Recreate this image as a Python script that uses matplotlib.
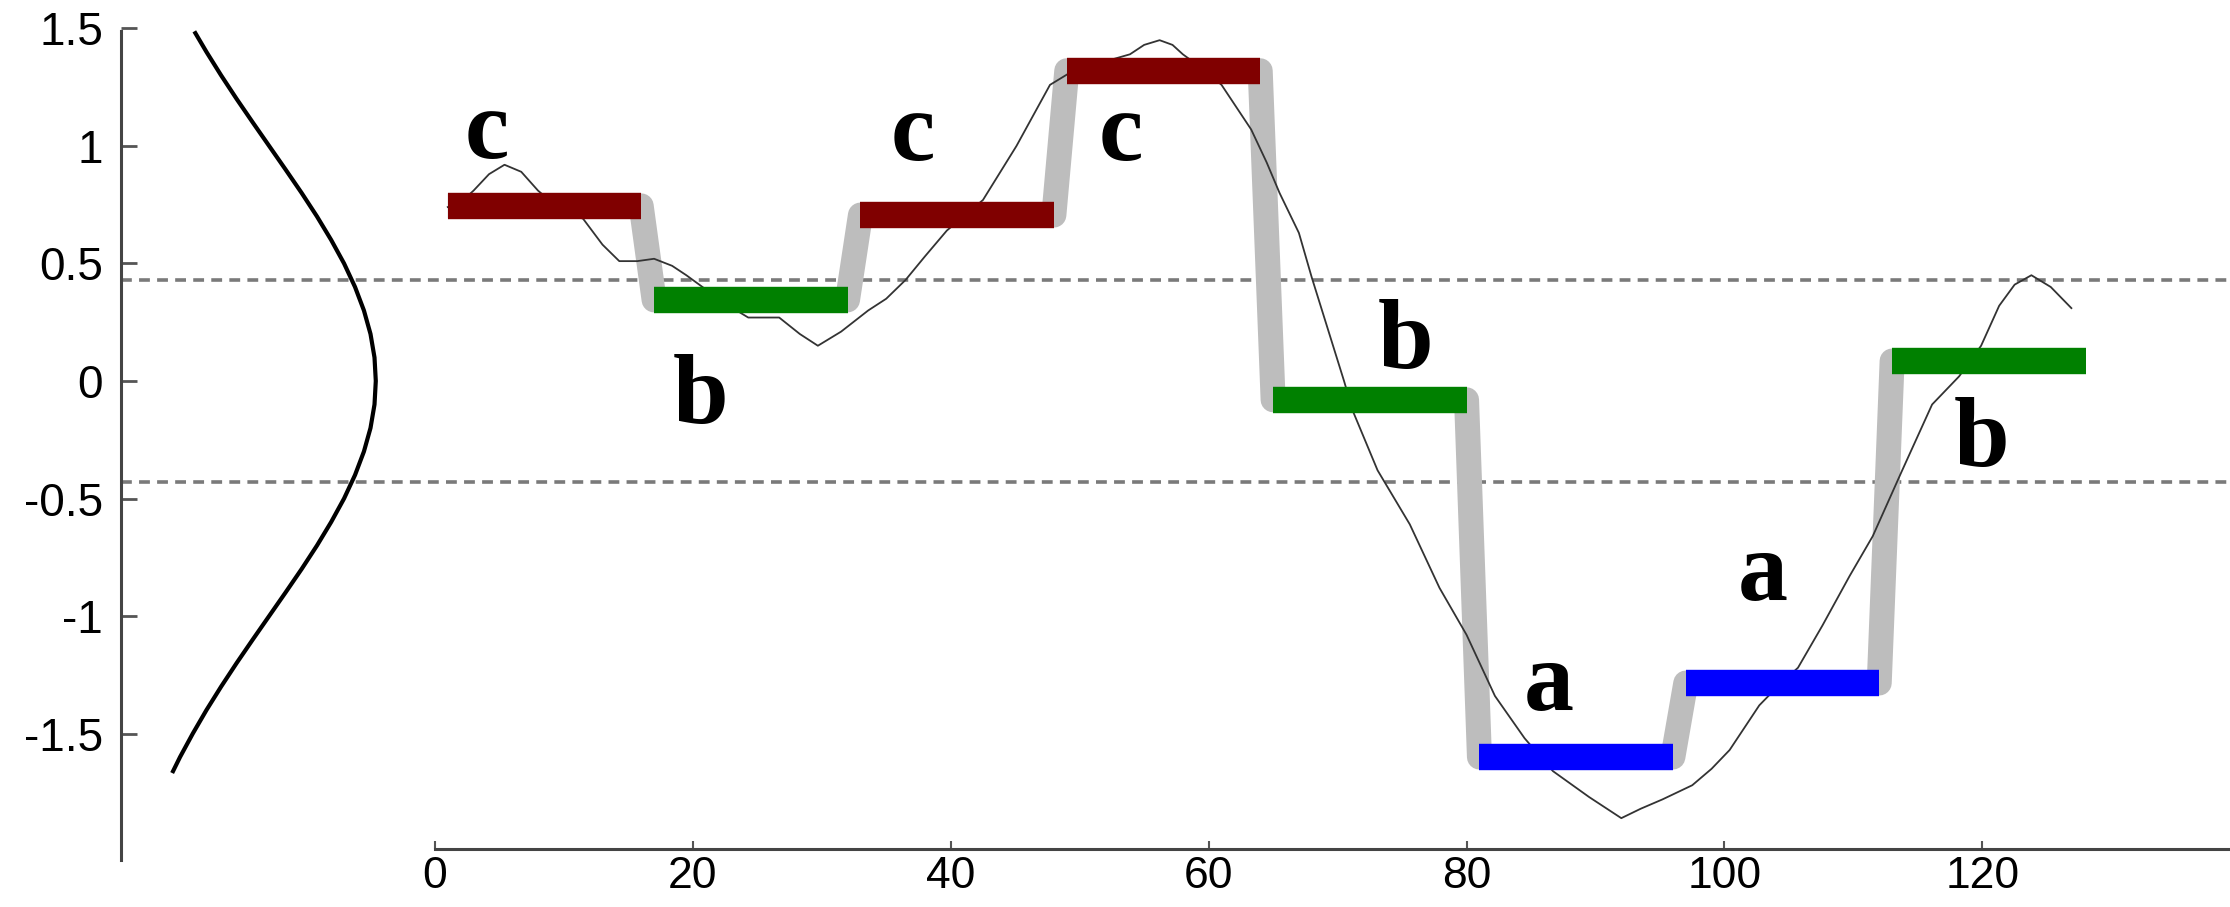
import numpy as np
import matplotlib
matplotlib.use("Agg")
import matplotlib.pyplot as plt

# time series (t, value)
series_t = [1, 2, 3.0, 4.2, 5.4, 6.7, 8.0, 9.5, 11.5, 13.0, 14.3, 15.7, 17.0, 18.4,
            19.5, 20.5, 22.5, 24.3, 26.7, 28.3, 29.7, 31.5, 33.6, 35.0, 36.5, 38.0,
            39.7, 42.5, 45.1, 47.7, 49.5, 52.0, 53.9, 55.0, 56.2, 57.2, 58.0, 59.5,
            61.0, 63.3, 64.5, 65.5, 67.0, 68.0, 70.5, 71.2, 73.1, 75.6, 77.9, 80.0,
            82.2, 84.5, 86.7, 89.5, 92.0, 93.5, 95.2, 97.5, 99.0, 100.4, 102.7, 104.3,
            105.7, 107.6, 109.7, 111.5, 113.7, 116.1, 118.2, 119.9, 121.3, 122.5,
            123.8, 125.3, 126.9]
series_v = [0.74, 0.76, 0.81, 0.88, 0.92, 0.89, 0.81, 0.74, 0.69, 0.58, 0.51, 0.51,
            0.52, 0.49, 0.45, 0.41, 0.33, 0.27, 0.27, 0.20, 0.15, 0.21, 0.30, 0.35,
            0.43, 0.53, 0.64, 0.77, 1.00, 1.26, 1.32, 1.36, 1.39, 1.43, 1.45, 1.43,
            1.39, 1.33, 1.26, 1.07, 0.93, 0.80, 0.63, 0.44, 0.00, -0.13, -0.38, -0.61,
            -0.88, -1.08, -1.34, -1.52, -1.66, -1.77, -1.86, -1.82, -1.78, -1.72,
            -1.65, -1.57, -1.38, -1.29, -1.22, -1.04, -0.83, -0.66, -0.39, -0.10,
            0.02, 0.15, 0.32, 0.41, 0.45, 0.40, 0.31]

# PAA segments and their symbols
seg_start = [1, 17, 33, 49, 65, 81, 97, 113]
seg_end = [16, 32, 48, 64, 80, 96, 112, 128]
seg_value = [0.745, 0.345, 0.706, 1.32, -0.08, -1.60, -1.285, 0.085]
seg_symbol = ["c", "b", "c", "c", "b", "a", "a", "b"]

# letter label anchors (centre t, baseline value)
label_t = [4.0, 20.6, 37.1, 53.2, 75.3, 86.4, 103.0, 119.9]
label_v = [0.95, -0.18, 0.94, 0.94, 0.055, -1.40, -0.93, -0.36]

breakpoints = [0.43, -0.43]

# gaussian curve on the left, traced (value, horizontal position)
gauss_v = [1.48, 1.4, 1.3, 1.2, 1.1, 1.0, 0.9, 0.8, 0.7, 0.6, 0.5, 0.4, 0.3, 0.2, 0.1,
           0.0, -0.1, -0.2, -0.3, -0.4, -0.5, -0.6, -0.7, -0.8, -0.9, -1.0, -1.1,
           -1.2, -1.3, -1.4, -1.5, -1.6, -1.66]
gauss_x = [-18.57, -17.71, -16.57, -15.37, -14.12, -12.85, -11.58, -10.33, -9.14,
           -8.04, -7.04, -6.19, -5.50, -4.99, -4.68, -4.58, -4.68, -4.99, -5.50,
           -6.19, -7.04, -8.04, -9.14, -10.33, -11.58, -12.85, -14.12, -15.37,
           -16.57, -17.71, -18.77, -19.76, -20.30]

yticks = [-1.5, -1, -0.5, 0, 0.5, 1, 1.5]
ytick_labels = ["-1.5", "-1", "-0.5", "0", "0.5", "1", "1.5"]
xticks = [0, 20, 40, 60, 80, 100, 120]

colors = {"a": "#0000ff", "b": "#008000", "c": "#800000"}


def main():
    fig = plt.figure(figsize=(22.3, 9.07), dpi=100)
    ax = fig.add_axes([0, 0, 1, 1])
    ax.set_xlim(-33.72, 139.2)
    ax.set_ylim(-2.238, 1.621)

    spine_x = -24.34
    for b in breakpoints:
        ax.plot([spine_x, 139.2], [b, b], color="#7a7a7a", lw=2.6,
                dashes=(3, 2), zorder=1)

    ax.plot(gauss_x, gauss_v, color="black", lw=3.0, zorder=3)

    # gray step line connecting the PAA levels
    step_x = np.ravel(np.column_stack([seg_start, seg_end]))
    step_y = np.repeat(seg_value, 2)
    ax.plot(step_x, step_y, color="#bdbdbd", lw=18, solid_joinstyle="round",
            solid_capstyle="butt", zorder=2)

    ax.plot(series_t, series_v, color="#333333", lw=1.3,
            solid_joinstyle="round", zorder=3)

    for s, e, v, sym in zip(seg_start, seg_end, seg_value, seg_symbol):
        ax.plot([s, e], [v, v], color=colors[sym], lw=19,
                solid_capstyle="butt", zorder=4)

    for t, v, sym in zip(label_t, label_v, seg_symbol):
        ax.text(t, v, sym, fontsize=72, fontweight="bold",
                family="Liberation Serif", ha="center", va="baseline", zorder=5)

    for side in ["top", "right"]:
        ax.spines[side].set_visible(False)
    ax.spines["left"].set_position(("data", spine_x))
    ax.spines["left"].set_bounds(-2.04, 1.49)
    ax.spines["bottom"].set_position(("data", -1.99))
    ax.spines["bottom"].set_bounds(0, 139.2)
    for side in ["left", "bottom"]:
        ax.spines[side].set_color("#444444")
        ax.spines[side].set_linewidth(2.2)

    ax.set_yticks(yticks)
    ax.set_yticklabels(ytick_labels)
    ax.set_xticks(xticks)
    ax.tick_params(axis="y", direction="in", length=11.5, width=2,
                   color="#555555", pad=13, labelsize=33)
    ax.tick_params(axis="x", direction="in", length=6, width=1.5,
                   color="#555555", pad=5, labelsize=32)
    for lab in ax.get_xticklabels() + ax.get_yticklabels():
        lab.set_family("Liberation Sans")

    fig.savefig("out.png", dpi=100)
    plt.close(fig)


if __name__ == "__main__":
    main()
